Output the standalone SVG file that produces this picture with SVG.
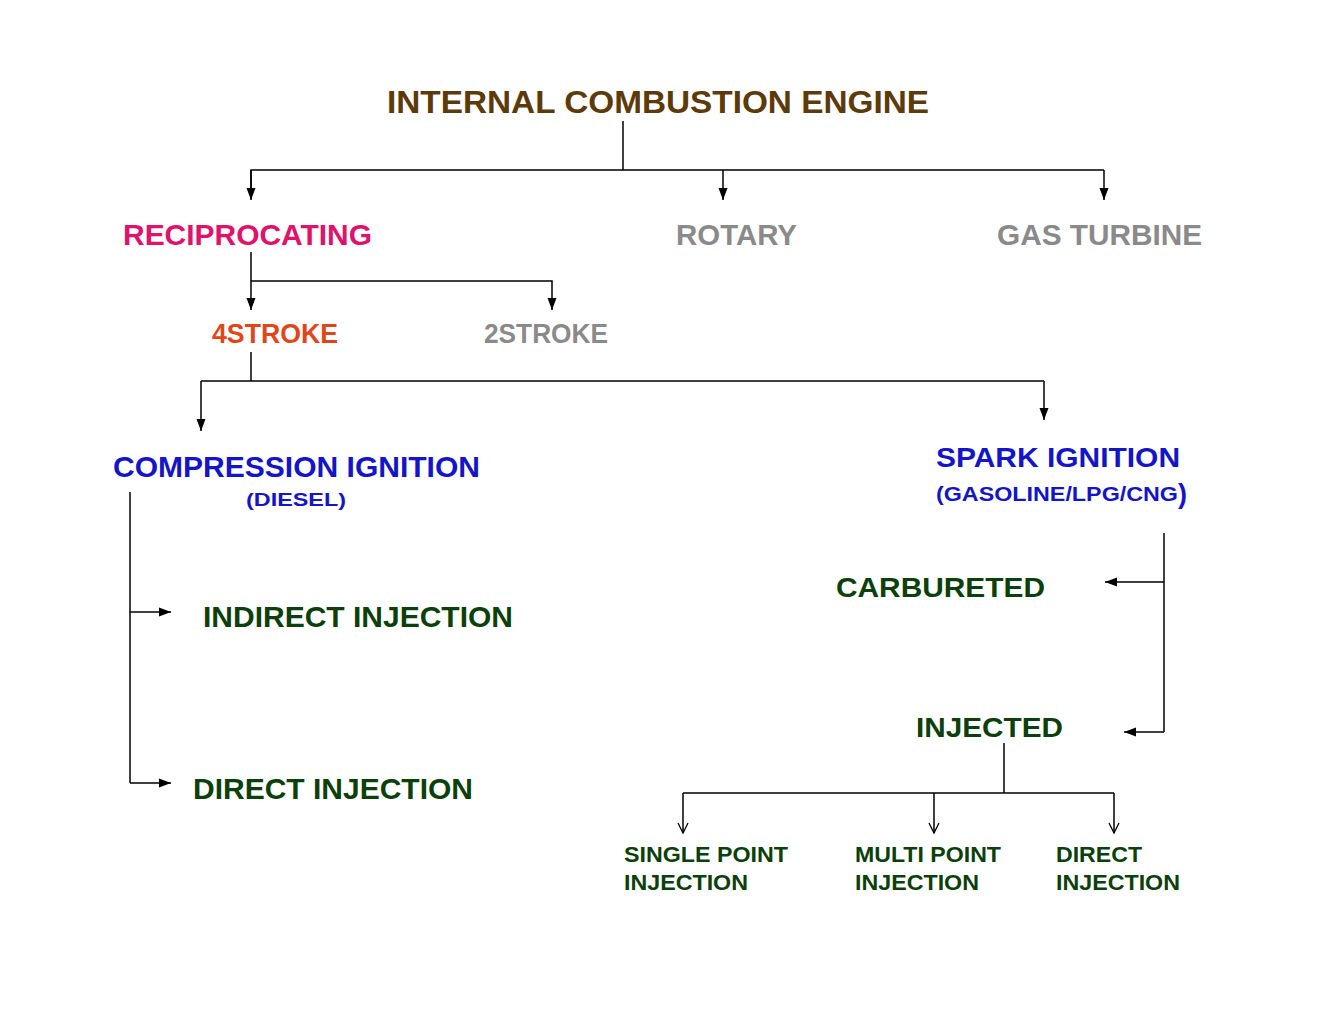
<svg xmlns="http://www.w3.org/2000/svg" width="1325" height="1024" viewBox="0 0 1325 1024">
<style>
text{font-family:"Liberation Sans",Arial,sans-serif;font-weight:bold}
.ln{stroke:#000;stroke-width:1.5;fill:none}
.gray{fill:#8a8a8a}
.blue{fill:#1414c8}
.green{fill:#0b400b}
</style>
<defs>
<marker id="a" markerWidth="12" markerHeight="10" refX="12" refY="5" orient="auto" markerUnits="userSpaceOnUse"><path d="M0,0.5 L12,5 L0,9.5 Z" fill="#000"/></marker>
<marker id="v" markerWidth="12" markerHeight="12" refX="11" refY="6" orient="auto" markerUnits="userSpaceOnUse"><path d="M1,1 L11,6 L1,11" fill="none" stroke="#000" stroke-width="1.3"/></marker>
</defs>
<rect width="1325" height="1024" fill="#fff"/>
<g id="connectors">
<path class="ln" d="M623,121 V170"/>
<path class="ln" d="M251,198 V170 H1104"/>
<path class="ln" d="M251,170 V200" marker-end="url(#a)"/>
<path class="ln" d="M723,170 V200" marker-end="url(#a)"/>
<path class="ln" d="M1104,170 V200" marker-end="url(#a)"/>
<path class="ln" d="M251,252 V310" marker-end="url(#a)"/>
<path class="ln" d="M251,281 H552 V310" marker-end="url(#a)"/>
<path class="ln" d="M251,352 V381"/>
<path class="ln" d="M201,381 H1044"/>
<path class="ln" d="M201,381 V431" marker-end="url(#a)"/>
<path class="ln" d="M1044,381 V420" marker-end="url(#a)"/>
<path class="ln" d="M130,492 V783"/>
<path class="ln" d="M130,612 H171" marker-end="url(#a)"/>
<path class="ln" d="M130,783 H171" marker-end="url(#a)"/>
<path class="ln" d="M1164,533 V732"/>
<path class="ln" d="M1164,582 H1105" marker-end="url(#a)"/>
<path class="ln" d="M1164,732 H1124" marker-end="url(#a)"/>
<path class="ln" d="M1004,743 V793"/>
<path class="ln" d="M683,793 H1114"/>
<path class="ln" d="M683,793 V833" marker-end="url(#v)"/>
<path class="ln" d="M934,793 V833" marker-end="url(#v)"/>
<path class="ln" d="M1114,793 V833" marker-end="url(#v)"/>
</g>
<g id="ice"><text x="387" y="113" font-size="32" textLength="542" lengthAdjust="spacingAndGlyphs" fill="#5c3a0a">INTERNAL COMBUSTION ENGINE</text></g>
<g id="reciprocating"><text x="123" y="245" font-size="30" textLength="249" lengthAdjust="spacingAndGlyphs" fill="#e0126b">RECIPROCATING</text></g>
<g id="rotary"><text class="gray" x="676" y="245" font-size="30" textLength="121" lengthAdjust="spacingAndGlyphs">ROTARY</text></g>
<g id="gasturbine"><text class="gray" x="997" y="245" font-size="30" textLength="205" lengthAdjust="spacingAndGlyphs">GAS TURBINE</text></g>
<g id="stroke4"><text x="212" y="343" font-size="27" textLength="126" lengthAdjust="spacingAndGlyphs" fill="#e0461a">4STROKE</text></g>
<g id="stroke2"><text class="gray" x="484" y="343" font-size="27" textLength="124" lengthAdjust="spacingAndGlyphs">2STROKE</text></g>
<g id="ci">
<text class="blue" x="113" y="477" font-size="30" textLength="367" lengthAdjust="spacingAndGlyphs">COMPRESSION IGNITION</text>
<text class="blue" x="246" y="506" font-size="19" textLength="100" lengthAdjust="spacingAndGlyphs">(DIESEL)</text>
</g>
<g id="si">
<text class="blue" x="936" y="467" font-size="28" textLength="244" lengthAdjust="spacingAndGlyphs">SPARK IGNITION</text>
<text class="blue" x="936" y="501" font-size="20" textLength="242" lengthAdjust="spacingAndGlyphs">(GASOLINE/LPG/CNG</text>
<text class="blue" x="1178" y="503" font-size="27">)</text>
</g>
<g id="indirect"><text class="green" x="203" y="627" font-size="30" textLength="310" lengthAdjust="spacingAndGlyphs">INDIRECT INJECTION</text></g>
<g id="direct"><text class="green" x="193" y="799" font-size="30" textLength="280" lengthAdjust="spacingAndGlyphs">DIRECT INJECTION</text></g>
<g id="carbureted"><text class="green" x="836" y="597" font-size="28" textLength="209" lengthAdjust="spacingAndGlyphs">CARBURETED</text></g>
<g id="injected"><text class="green" x="916" y="737" font-size="28" textLength="147" lengthAdjust="spacingAndGlyphs">INJECTED</text></g>
<g id="spi">
<text class="green" x="624" y="862" font-size="22" textLength="164" lengthAdjust="spacingAndGlyphs">SINGLE POINT</text>
<text class="green" x="624" y="890" font-size="22" textLength="124" lengthAdjust="spacingAndGlyphs">INJECTION</text>
</g>
<g id="mpi">
<text class="green" x="855" y="862" font-size="22" textLength="146" lengthAdjust="spacingAndGlyphs">MULTI POINT</text>
<text class="green" x="855" y="890" font-size="22" textLength="124" lengthAdjust="spacingAndGlyphs">INJECTION</text>
</g>
<g id="di">
<text class="green" x="1056" y="862" font-size="22" textLength="86" lengthAdjust="spacingAndGlyphs">DIRECT</text>
<text class="green" x="1056" y="890" font-size="22" textLength="124" lengthAdjust="spacingAndGlyphs">INJECTION</text>
</g>
</svg>
